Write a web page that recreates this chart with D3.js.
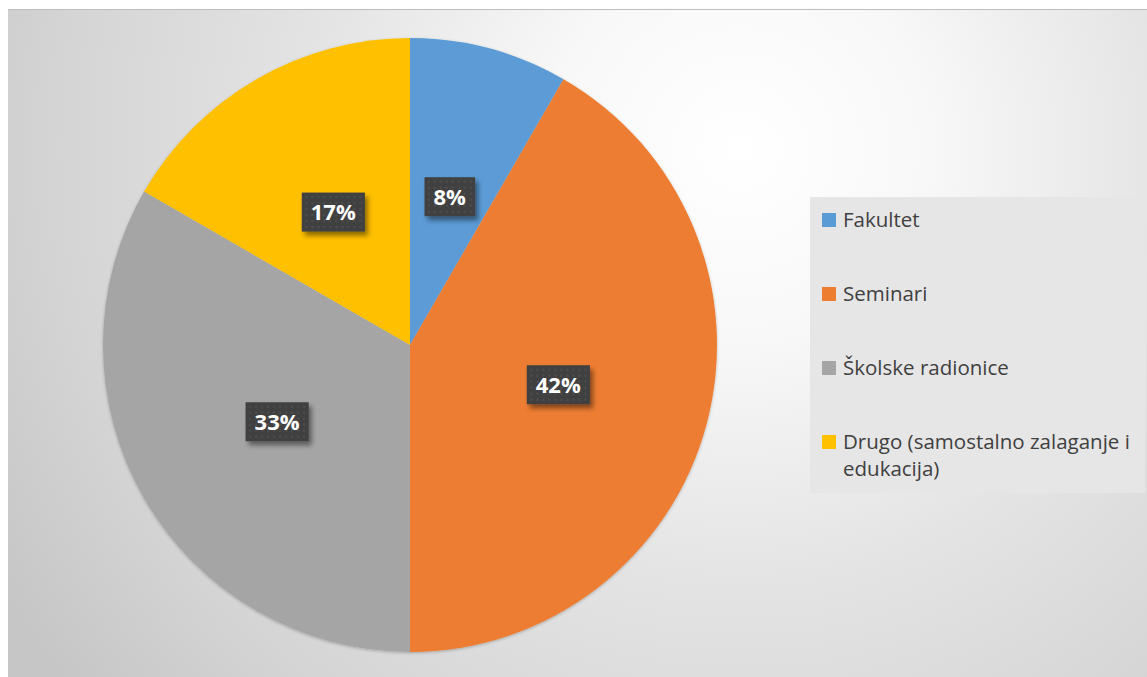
<!DOCTYPE html>
<html>
<head>
<meta charset="utf-8">
<script src="https://cdn.jsdelivr.net/npm/d3@7"></script>
<style>
  html, body { margin: 0; padding: 0; background: #ffffff; }
  svg { display: block; }
  text { font-family: "Open Sans", "Liberation Sans", sans-serif; }
</style>
</head>
<body>
<svg id="chart" width="1147" height="677"></svg>
<script>
// Sources of professional training (share of respondents)
const categories = ["Fakultet", "Seminari", "Školske radionice", "Drugo (samostalno zalaganje i edukacija)"];
const counts = [1, 5, 4, 2];
const legendLines = [["Fakultet"], ["Seminari"], ["Školske radionice"], ["Drugo (samostalno zalaganje i", "edukacija)"]];
const sliceColors = ["#5b9bd5", "#ed7d31", "#a5a5a5", "#ffc000"];

const W = 1147, H = 677;
const svg = d3.select("#chart");
const defs = svg.append("defs");

// chart area background: soft radial light
const bg = defs.append("radialGradient")
  .attr("id", "bgGrad")
  .attr("gradientUnits", "userSpaceOnUse")
  .attr("cx", 740).attr("cy", 150).attr("r", 860);
[[0, "#ffffff"], [0.22, "#f8f8f8"], [0.5, "#e4e4e4"], [0.8, "#d4d4d4"], [1, "#c6c6c6"]]
  .forEach(([o, c]) => bg.append("stop").attr("offset", o).attr("stop-color", c));

// dotted texture for the data label boxes
const pat = defs.append("pattern")
  .attr("id", "dots").attr("patternUnits", "userSpaceOnUse")
  .attr("width", 6).attr("height", 6);
pat.append("rect").attr("width", 6).attr("height", 6).attr("fill", "#404040");
pat.append("circle").attr("cx", 3).attr("cy", 3).attr("r", 1.3).attr("fill", "#4d4d4d");

const shadow = defs.append("filter").attr("id", "labelShadow")
  .attr("x", "-30%").attr("y", "-30%").attr("width", "170%").attr("height", "180%");
shadow.append("feDropShadow").attr("dx", 3).attr("dy", 4).attr("stdDeviation", 2.5)
  .attr("flood-color", "#000").attr("flood-opacity", 0.45);

const pieShadow = defs.append("filter").attr("id", "pieShadow")
  .attr("x", "-10%").attr("y", "-10%").attr("width", "120%").attr("height", "120%");
pieShadow.append("feDropShadow").attr("dx", 0).attr("dy", 1).attr("stdDeviation", 1.5)
  .attr("flood-color", "#000").attr("flood-opacity", 0.25);

svg.append("rect")
  .attr("x", 8).attr("y", 9).attr("width", W - 8).attr("height", H - 9)
  .attr("fill", "url(#bgGrad)");
svg.append("line")
  .attr("x1", 8).attr("x2", W).attr("y1", 9.5).attr("y2", 9.5)
  .attr("stroke", "#bdbdbd").attr("stroke-width", 1);

// pie
const cx = 410, cy = 345, radius = 307;
const total = d3.sum(counts);
const pie = d3.pie().sort(null).value(d => d);
const arcs = pie(counts);
const arc = d3.arc().innerRadius(0).outerRadius(radius);
const color = d3.scaleOrdinal().domain(categories).range(sliceColors);
const pct = d3.format(".0%");

const g = svg.append("g").attr("transform", `translate(${cx},${cy})`);
g.append("g").attr("filter", "url(#pieShadow)")
  .selectAll("path").data(arcs).join("path")
  .attr("d", arc)
  .attr("fill", (d, i) => color(categories[i]));

// data labels
const labels = g.selectAll("g.lbl").data(arcs).join("g")
  .attr("class", "lbl")
  .attr("transform", d => `translate(${arc.centroid(d)})`);
const boxes = labels.append("rect").attr("fill", "url(#dots)").attr("filter", "url(#labelShadow)");
const texts = labels.append("text")
  .attr("text-anchor", "middle")
  .attr("dy", "0.36em")
  .attr("fill", "#ffffff")
  .attr("font-size", 22)
  .attr("font-weight", 700)
  .text(d => pct(d.value / total));
texts.each(function (d, i) {
  const b = this.getBBox();
  const padX = 9, h = 39;
  d3.select(boxes.nodes()[i])
    .attr("x", b.x - padX).attr("y", -h / 2)
    .attr("width", b.width + 2 * padX).attr("height", h);
});

// legend
const legend = svg.append("g");
legend.append("rect")
  .attr("x", 810).attr("y", 197).attr("width", 335).attr("height", 296)
  .attr("fill", "#e6e6e6");
const lgY = d3.scaleLinear().domain([0, 1]).range([227, 301]);
const items = legend.selectAll("g.item").data(categories).join("g")
  .attr("class", "item")
  .attr("transform", (d, i) => `translate(822,${lgY(i)})`);
items.append("rect")
  .attr("x", 0).attr("y", -14).attr("width", 14).attr("height", 14)
  .attr("fill", d => color(d));
items.append("text")
  .attr("x", 21)
  .attr("fill", "#404040")
  .attr("font-size", 20.5)
  .selectAll("tspan").data((d, i) => legendLines[i]).join("tspan")
  .attr("x", 21)
  .attr("dy", (d, j) => j === 0 ? 0 : 27)
  .text(d => d);
</script>
</body>
</html>
